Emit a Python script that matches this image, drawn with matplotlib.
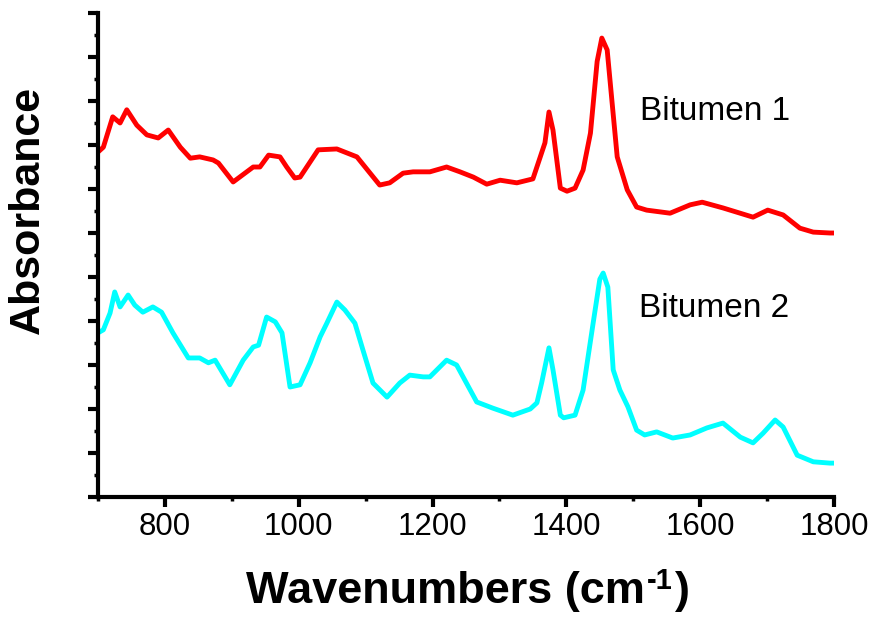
import matplotlib
matplotlib.use("Agg")
import matplotlib.pyplot as plt
from matplotlib.ticker import MultipleLocator

plt.rcParams['font.family'] = ['Liberation Sans', 'DejaVu Sans']

# Bitumen 1 (red)
wn1 = [700, 708, 722, 733, 743, 758, 773, 790, 805, 823, 838, 852, 872, 880, 902, 932, 942,
       955, 972, 982, 994, 1002, 1029, 1057, 1087, 1121, 1136, 1156, 1171, 1196, 1221, 1241,
       1261, 1281, 1301, 1326, 1350, 1361, 1368, 1374, 1380, 1391, 1401, 1413, 1425, 1436,
       1446, 1453, 1461, 1468, 1476, 1491, 1505, 1520, 1555, 1585, 1603, 1634, 1679, 1701,
       1724, 1749, 1769, 1794, 1800]
ab1 = [7.84, 7.95, 8.64, 8.50, 8.80, 8.45, 8.23, 8.16, 8.34, 7.95, 7.70, 7.73, 7.66, 7.59,
       7.16, 7.50, 7.50, 7.77, 7.73, 7.50, 7.25, 7.27, 7.89, 7.91, 7.73, 7.09, 7.14, 7.36,
       7.39, 7.39, 7.50, 7.39, 7.27, 7.11, 7.20, 7.14, 7.23, 7.73, 8.05, 8.75, 8.34, 7.02,
       6.95, 7.02, 7.43, 8.27, 9.90, 10.43, 10.16, 9.02, 7.73, 6.98, 6.59, 6.52, 6.45,
       6.64, 6.70, 6.57, 6.36, 6.52, 6.41, 6.11, 6.02, 6.00, 6.00]

# Bitumen 2 (cyan)
wn2 = [700, 708, 718, 725, 733, 745, 755, 767, 782, 795, 812, 835, 852, 865, 875, 897, 917,
       932, 940, 952, 965, 975, 987, 1002, 1017, 1032, 1042, 1057, 1069, 1084, 1096, 1111,
       1132, 1151, 1166, 1186, 1196, 1221, 1236, 1266, 1290, 1320, 1346, 1356, 1363, 1374,
       1380, 1391, 1396, 1413, 1425, 1440, 1450, 1455, 1462, 1470, 1480, 1492, 1505, 1517,
       1535, 1559, 1585, 1610, 1634, 1660, 1679, 1694, 1712, 1724, 1745, 1769, 1794, 1800]
ab2 = [3.73, 3.80, 4.18, 4.66, 4.32, 4.59, 4.36, 4.20, 4.32, 4.20, 3.73, 3.16, 3.16, 3.05,
       3.11, 2.55, 3.11, 3.41, 3.45, 4.09, 3.98, 3.73, 2.50, 2.55, 3.05, 3.64, 3.95, 4.43,
       4.25, 3.95, 3.34, 2.59, 2.27, 2.59, 2.77, 2.73, 2.73, 3.11, 3.00, 2.16, 2.02, 1.86,
       2.00, 2.14, 2.59, 3.39, 2.89, 1.86, 1.80, 1.86, 2.43, 3.95, 4.95, 5.09, 4.77, 2.89,
       2.43, 2.05, 1.52, 1.41, 1.48, 1.34, 1.41, 1.57, 1.68, 1.36, 1.23, 1.45, 1.75, 1.59,
       0.95, 0.80, 0.77, 0.77]

labels = ["Bitumen 1", "Bitumen 2"]
x_ticks = [800, 1000, 1200, 1400, 1600, 1800]

fig = plt.figure(figsize=(8.73, 6.17), dpi=100)
ax = fig.add_axes([98 / 873, 1 - 497 / 617, (834 - 98) / 873, (497 - 13) / 617])

ax.plot(wn1, ab1, color='#FF0000', lw=3.5, solid_joinstyle='round', solid_capstyle='round')
ax.plot(wn2, ab2, color='#00FFFF', lw=3.5, solid_joinstyle='round', solid_capstyle='round')

ax.set_xlim(700, 1800)
ax.set_ylim(0, 11)
ax.set_xticks(x_ticks)
ax.xaxis.set_minor_locator(MultipleLocator(100))
ax.yaxis.set_major_locator(MultipleLocator(1))
ax.yaxis.set_minor_locator(MultipleLocator(0.5))
ax.set_yticklabels([])

for s in ['top', 'right']:
    ax.spines[s].set_visible(False)
for s in ['left', 'bottom']:
    ax.spines[s].set_linewidth(3.0)

ax.tick_params(axis='both', which='major', direction='out', length=7, width=3.0,
               labelsize=22.5, pad=4)
ax.tick_params(axis='both', which='minor', direction='out', length=3, width=2.5)

ax.text(1510, 8.57, labels[0], fontsize=24, ha='left', va='baseline')
ax.text(1508, 4.09, labels[1], fontsize=24, ha='left', va='baseline')

# x label composed of main text, superscript and closing parenthesis
fig.canvas.draw()
renderer = fig.canvas.get_renderer()
base_y = (617 - 603) / 617
t1 = fig.text(246 / 873, base_y, 'Wavenumbers (cm', fontsize=32.5, fontweight='bold',
              ha='left', va='baseline')
w1 = t1.get_window_extent(renderer)
t2 = fig.text(w1.x1 / 873 + 2 / 873, base_y + 14 / 617, '-1', fontsize=21, fontweight='bold',
              ha='left', va='baseline')
w2 = t2.get_window_extent(renderer)
t3 = fig.text(w2.x1 / 873 + 2 / 873, base_y, ')', fontsize=32.5, fontweight='bold',
              ha='left', va='baseline')

fig.text(28 / 873, (617 - 210) / 617, 'Absorbance', fontsize=31, fontweight='bold',
         rotation=90, ha='center', va='center')

fig.savefig('out.png', dpi=100)
